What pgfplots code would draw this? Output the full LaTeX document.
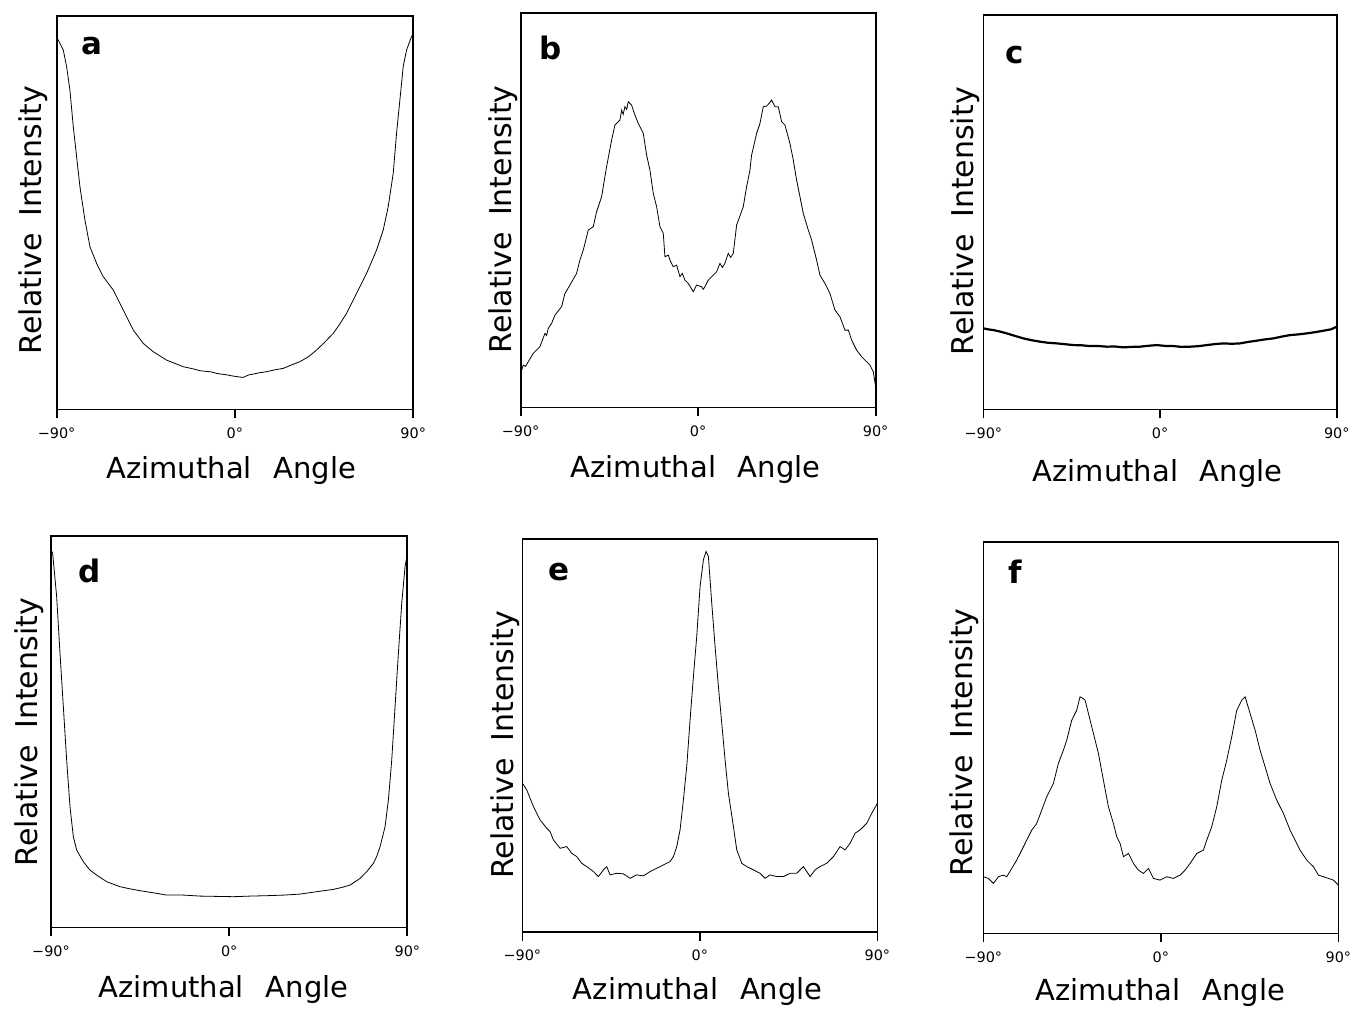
\documentclass[border=0pt]{standalone}
\usepackage{fontspec}
\setmainfont{DejaVu Sans}
\usepackage{pgfplots}
\pgfplotsset{compat=1.18}
\newcommand{\tickfont}{\fontsize{7.2}{8}\selectfont}
\newcommand{\xlabfont}{\fontsize{14.5}{16}\selectfont}
\newcommand{\ylabfont}{\fontsize{15}{16}\selectfont}
\newcommand{\letfont}{\fontsize{15.5}{17}\selectfont\bfseries}
\pgfplotsset{
  panel/.style={
    scale only axis, anchor=south west,
    xmin=-90, xmax=90, ymin=0,
    axis line style={line width=0.9pt},
    ytick=\empty,
    xtick={-90,0,90},
    xticklabels={{\tickfont −90°},{\tickfont 0°},{\tickfont 90°}},
    xtick pos=bottom,
    xtick align=outside,
    major tick length=4.5pt,
    tick style={black, line width=0.9pt},
    xticklabel style={yshift=-1.2pt},
    xlabel={\xlabfont Azimuthal\hspace{0.75em}Angle},
    ylabel={\ylabfont Relative\hspace{0.55em}Intensity},
    xlabel style={anchor=base},
    ylabel style={anchor=base},
    cycle list={{black, mark=none, line width=0.9pt, line join=round}},
  }
}
\begin{document}
\begin{tikzpicture}
% ---------------- a ----------------
\begin{axis}[panel, at={(28.3pt,299.8pt)}, width=178.3pt, height=196.7pt, ymax=393.3,
  xlabel style={at={(axis description cs:0.490,-0.175)}},
  ylabel style={at={(axis description cs:-0.042,0.481)}}]
\addplot coordinates {
(-90,372) (-89.16,369.3) (-86.64,359.3) (-84.95,342.7) (-83.27,319.3) (-81.59,282.7)
(-79.91,252.7) (-78.22,222.7) (-75.70,189.3) (-73.18,162.7) (-69.81,146) (-66.45,132.7)
(-61.40,119.3) (-56.36,99.3) (-51.31,79.3) (-46.26,66) (-41.22,57.7) (-34.49,49.3)
(-26.08,42.7) (-21,40.5) (-17.67,38.7) (-12,37.5) (-9.25,36) (-4,34.5) (-0.84,33.3) (2,32.5) (4.21,32)
(7,34.5) (9.25,35.3) (12,36.5) (15.98,37.7) (20,39.5) (24.39,41) (28,44) (32.80,47.7) (37,52.5) (41.21,59.3)
(45,66.5) (49.62,76) (53,85.5) (56.35,96) (61.40,116) (66.45,136) (71.50,159.3) (74.86,179.3)
(77.38,202.7) (79.91,236) (81.59,276) (83.27,309.3) (84.95,342.7) (86.64,359.3)
(89.16,372.7) (90,376)
};
\node[anchor=base west, inner sep=0pt] at (axis description cs:0.070,0.901) {\letfont a};
\end{axis}
% ---------------- b ----------------
\begin{axis}[panel, at={(260.3pt,300.8pt)}, width=177.5pt, height=197pt, ymax=394,
  xlabel style={at={(axis description cs:0.493,-0.178)}},
  ylabel style={at={(axis description cs:-0.025,0.477)}}]
\addplot coordinates {
(-90,34) (-88.65,42.3) (-87.5,41) (-86.11,45.7) (-83.58,54) (-80.20,60.7) (-77.66,74)
(-76.8,72) (-75.97,79) (-74.28,84) (-72.59,92.3) (-69.21,100.7) (-67.52,114)
(-64.99,122.3) (-61.61,134) (-59.92,147.3) (-58.23,157.3) (-55.69,177.3) (-53.16,180.7)
(-51.47,195.7) (-48.93,210.7) (-46.40,240.7) (-43.86,267.3) (-42.17,282.3) (-39.64,287.3)
(-38.79,297.3) (-38,293) (-37.10,300.7) (-36.2,298) (-35.41,305.7) (-33.72,302.3) (-32.03,292.3)
(-30.34,284) (-27.80,274) (-26.11,252.3) (-24.42,237.3) (-22.73,214) (-21.04,200.7)
(-19.35,180.7) (-17.66,174) (-16.82,150.7) (-15.13,152.3) (-14,146) (-12.59,140.7) (-10.90,142.3)
(-9.21,130.7) (-8,134) (-6.68,127.3) (-4.99,124) (-2.45,115.7) (-0.76,122.3) (1.77,120.7)
(2.6,118) (3.46,120.7) (5.15,127.3) (7.69,132.3) (9.38,135.7) (11.07,144) (12.3,140) (13.60,144)
(15.29,154) (16.5,150) (17.83,154) (19.52,182.3) (22.90,200.7) (24.59,220.7) (26.28,237.3)
(27.12,252.3) (29.66,274) (31.35,284) (33.04,300.7) (34.73,301.3) (36,304) (37.26,307.3)
(38.95,300.7) (40.64,300.7) (42.34,285.7) (44.03,282.3) (46.56,264) (48.25,247.3)
(49.94,227.3) (51.63,210.7) (53.32,194) (55.86,177.3) (57.55,167.3) (60.08,147.3)
(61.77,132.3) (64.31,124) (66.84,114) (69.38,97.3) (71.91,90.7) (74.45,77.3)
(76.14,77.3) (77.83,67.3) (80.36,57.3) (82.90,50.7) (85.43,45.7) (87.12,42.3)
(88.81,35.7) (90,20.7)
};
\node[anchor=base west, inner sep=0pt] at (axis description cs:0.052,0.882) {\letfont b};
\end{axis}
% ---------------- c ----------------
\begin{axis}[panel, at={(491.7pt,299.8pt)}, width=176.7pt, height=197.2pt, ymax=394.3,
  xlabel style={at={(axis description cs:0.493,-0.183)}},
  ylabel style={at={(axis description cs:-0.028,0.477)}}]
\addplot+[line width=1.1pt] coordinates {
(-90,81) (-87.5,80) (-84.91,79.3) (-81.5,77.8) (-78.11,76) (-74,73.5) (-69.62,71)
(-65.5,69.2) (-61.13,67.7) (-57,66.6) (-52.64,66) (-48.5,65.2) (-44.15,64.3) (-40,64.1)
(-35.66,63.3) (-31.5,63.4) (-27.17,62.7) (-23,62.9) (-18.68,62) (-14.5,62.5) (-10.19,62.7)
(-6,63.6) (-1.70,64.3) (2.5,63.5) (6.79,63.3) (11,62.5) (15.28,62.7) (19.5,63.2) (23.77,64.3)
(28,65.3) (32.26,66) (36.5,65.6) (40.75,66) (45,67.5) (49.25,68.7) (53.5,70) (57.74,71)
(62,72.8) (66.23,74.3) (70.5,75) (74.72,76) (79,77.2) (83.21,78.7) (87,80) (90,82.7)
};
\node[anchor=base west, inner sep=0pt] at (axis description cs:0.061,0.878) {\letfont c};
\end{axis}
% ---------------- d ----------------
\begin{axis}[panel, at={(25.5pt,40.8pt)}, width=178.2pt, height=195.7pt, ymax=391.3,
  xlabel style={at={(axis description cs:0.484,-0.179)}},
  ylabel style={at={(axis description cs:-0.039,0.499)}}]
\addplot coordinates {
(-90,378) (-89.16,374) (-87.14,330.7) (-85.45,274) (-83.77,220.7) (-82.09,167.3)
(-80.40,120.7) (-78.72,90.7) (-77.03,77.3) (-73.67,65.7) (-70.30,57.3) (-66.93,52.3)
(-61.88,45.7) (-55.15,40.7) (-50,38.5) (-45.04,36.7) (-38,34.5) (-31.57,32.3) (-23.15,32.3)
(-14.73,31.3) (-6.32,31) (2.10,30.7) (10.52,31.3) (18.94,31.7) (27.36,32.3) (35.78,33.3)
(44.20,35.7) (52.62,38) (57,40) (61.04,42.3) (66.09,49) (69.46,55.7) (72.83,64) (74.5,71)
(76.20,80.7) (78.72,100.7) (80.40,127.3) (82.09,167.3) (83.77,220.7) (85.45,274)
(87.14,324) (88.82,360.7) (90,374)
};
\node[anchor=base west, inner sep=0pt] at (axis description cs:0.076,0.880) {\letfont d};
\end{axis}
% ---------------- e ----------------
\begin{axis}[panel, at={(261.2pt,38.7pt)}, width=177.5pt, height=196.2pt, ymax=392.3,
  xlabel style={at={(axis description cs:0.494,-0.173)}},
  ylabel style={at={(axis description cs:-0.025,0.476)}}]
\addplot coordinates {
(-90,148.3) (-87.80,141.7) (-84.42,125) (-81.04,111.7) (-77.66,103.3) (-75.97,100)
(-74.28,91.7) (-70.90,83.3) (-67.52,85) (-64.99,78.3) (-62.45,75) (-59.92,68.3)
(-57.38,65) (-54.00,60) (-51.47,55) (-48.93,61.7) (-47.24,65) (-45.55,56.7)
(-42.17,58.3) (-38.79,57.7) (-35.41,53.3) (-32.03,56.7) (-28.65,55.7) (-25.27,60)
(-21.89,63.3) (-18.51,66.7) (-15.13,70) (-13.44,75) (-11.75,85) (-10.06,101.7)
(-8.37,131.7) (-6.68,165) (-4.99,211.7) (-3.30,255) (-1.61,295) (0.08,345)
(1.77,371.7) (3.12,380) (4.31,375) (6.00,328.3) (7.69,285) (9.38,245) (11.07,208.3)
(12.76,171.7) (14.45,138.3) (16.99,105) (18.68,81.7) (21.21,68.3) (23.75,65)
(27.13,61.7) (30.51,58.3) (33.04,53.3) (35.58,56.7) (38.96,55) (42.34,55) (45.72,58.3)
(49.10,58.3) (52.48,65) (55.86,55) (58.39,61.7) (60.93,65) (64.31,68.3) (67.69,75)
(71.07,85) (73.60,81.7) (76.14,88.3) (78.67,98.3) (81.21,101.7) (84.59,108.3)
(87.12,118.3) (90,128.3)
};
\node[anchor=base west, inner sep=0pt] at (axis description cs:0.072,0.896) {\letfont e};
\end{axis}
% ---------------- f ----------------
\begin{axis}[panel, at={(491.7pt,37.8pt)}, width=177.5pt, height=195.8pt, ymax=391.7,
  xlabel style={at={(axis description cs:0.498,-0.171)}},
  ylabel style={at={(axis description cs:-0.031,0.488)}}]
\addplot coordinates {
(-90,56.7) (-87.46,55) (-84.93,50) (-82.39,56.7) (-79.86,58.3) (-78.17,56.7)
(-75.63,65) (-73.10,73.3) (-70.56,83.3) (-68.03,93.3) (-65.49,103.3) (-62.96,110)
(-60.42,123.3) (-57.89,136.7) (-54.51,150) (-51.97,170) (-49.44,183.3) (-47.75,193.3)
(-45.21,213.3) (-42.68,223.3) (-40.99,236.7) (-39.5,235) (-38.45,233.3) (-36.76,220)
(-34.23,200) (-31.69,180) (-29.16,153.3) (-26.62,126.7) (-24.09,110) (-22.40,96.7)
(-20.70,90) (-19.01,76.7) (-16.48,80) (-13.94,70) (-11.41,63.3) (-8.87,60) (-6.34,65)
(-3.80,55) (-0.42,53.3) (2.96,56.7) (6.34,55) (9.72,58.3) (12.25,63.3) (14.79,70)
(18.17,80) (21.55,83.3) (23.24,93.3) (25.77,106.7) (28.31,126.7) (30.85,153.3)
(33.38,173.3) (35.92,196.7) (38.45,223.3) (40.99,233.3) (42.68,236.7) (45.21,220)
(47.75,203.3) (50.28,183.3) (52.82,166.7) (55.35,150) (58.73,133.3) (62.11,120)
(65.49,103.3) (68.03,93.3) (70.56,83.3) (73.94,73.3) (77.32,66.7) (79.86,58.3)
(82.39,56.7) (84.93,55) (87.46,53.3) (90,48.3)
};
\node[anchor=base west, inner sep=0pt] at (axis description cs:0.070,0.894) {\letfont f};
\end{axis}
\pgfresetboundingbox
\path[use as bounding box] (0,0) rectangle (678.5pt,504.5pt);
\end{tikzpicture}
\end{document}
